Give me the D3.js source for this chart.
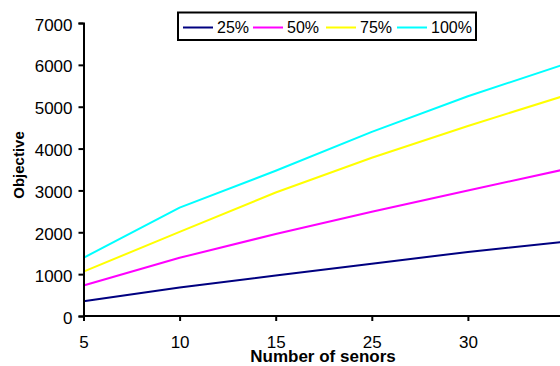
<!DOCTYPE html>
<html>
<head>
<meta charset="utf-8">
<script src="https://cdn.jsdelivr.net/npm/d3@7"></script>
<style>
  html, body { margin: 0; padding: 0; background: #fff; }
  svg { display: block; }
  text { font-family: "Liberation Sans", Arial, sans-serif; fill: #000; }
</style>
</head>
<body>
<svg id="chart" width="560" height="366"></svg>
<script>
// Sensor counts along the x axis (the last category sits at the right edge)
const categories = ["5", "10", "15", "25", "30", "35"];
const xTickLabels = ["5", "10", "15", "25", "30"];
const yTicks = [0, 1000, 2000, 3000, 4000, 5000, 6000, 7000];

// Objective value per coverage level
const s25  = [350, 680, 970, 1250, 1530, 1770];
const s50  = [730, 1390, 1960, 2490, 3000, 3500];
const s75  = [1060, 2010, 2950, 3780, 4540, 5260];
const s100 = [1390, 2590, 3470, 4400, 5250, 6010];

const seriesNames = ["25%", "50%", "75%", "100%"];
const seriesColors = ["#000080", "#FF00FF", "#FFFF00", "#00FFFF"];
const seriesValues = [s25, s50, s75, s100];

const svg = d3.select("#chart");

const x = d3.scalePoint().domain(categories).range([83.5, 564]);
const y = d3.scaleLinear().domain([0, 7000]).range([316, 23]);

// Series lines
const line = d3.line()
  .x((d, i) => x(categories[i]))
  .y(d => y(d));

seriesValues.forEach((vals, k) => {
  svg.append("path")
    .datum(vals)
    .attr("d", line)
    .attr("fill", "none")
    .attr("stroke", seriesColors[k])
    .attr("stroke-width", 2)
    .attr("stroke-linejoin", "round");
});

// Y axis
const yAxis = d3.axisLeft(y).tickValues(yTicks).tickSize(5).tickPadding(6).tickFormat(d3.format("d"));
const gy = svg.append("g").attr("transform", "translate(83.5,0)").call(yAxis);
gy.select(".domain").attr("stroke", "#000").attr("stroke-width", 2);
gy.selectAll(".tick line").attr("stroke", "#000").attr("stroke-width", 2);
gy.selectAll(".tick text").attr("font-size", 17).attr("font-family", "Liberation Sans, Arial, sans-serif").attr("dy", "0.42em");

// X axis
const xAxis = d3.axisBottom(x).tickValues(categories).tickSize(5).tickSizeOuter(0)
  .tickFormat(d => xTickLabels.includes(d) ? d : "");
const gx = svg.append("g").attr("transform", "translate(0,316)").call(xAxis);
gx.select(".domain").attr("stroke", "#000").attr("stroke-width", 2)
  .attr("d", "M83.5,0H560");
gx.selectAll(".tick line").attr("stroke", "#000").attr("stroke-width", 2);
gx.selectAll(".tick text").attr("font-size", 17).attr("font-family", "Liberation Sans, Arial, sans-serif")
  .attr("y", 20).attr("dy", "0.71em");

// Axis titles
svg.append("text")
  .attr("x", 323).attr("y", 362)
  .attr("text-anchor", "middle")
  .attr("font-size", 17).attr("font-weight", "bold")
  .text("Number of senors");

svg.append("text")
  .attr("transform", "translate(24,165) rotate(-90)")
  .attr("text-anchor", "middle")
  .attr("font-size", 15).attr("font-weight", "bold")
  .text("Objective");

// Legend
const legend = svg.append("g");
legend.append("rect")
  .attr("x", 178).attr("y", 12.5).attr("width", 298).attr("height", 27.5)
  .attr("fill", "#fff").attr("stroke", "#000").attr("stroke-width", 2);

const legendX = [183, 253, 326, 397];
seriesNames.forEach((name, k) => {
  legend.append("line")
    .attr("x1", legendX[k]).attr("x2", legendX[k] + 30)
    .attr("y1", 27.5).attr("y2", 27.5)
    .attr("stroke", seriesColors[k]).attr("stroke-width", 2);
  legend.append("text")
    .attr("x", legendX[k] + 34).attr("y", 33)
    .attr("font-size", 16)
    .text(name);
});
</script>
</body>
</html>
